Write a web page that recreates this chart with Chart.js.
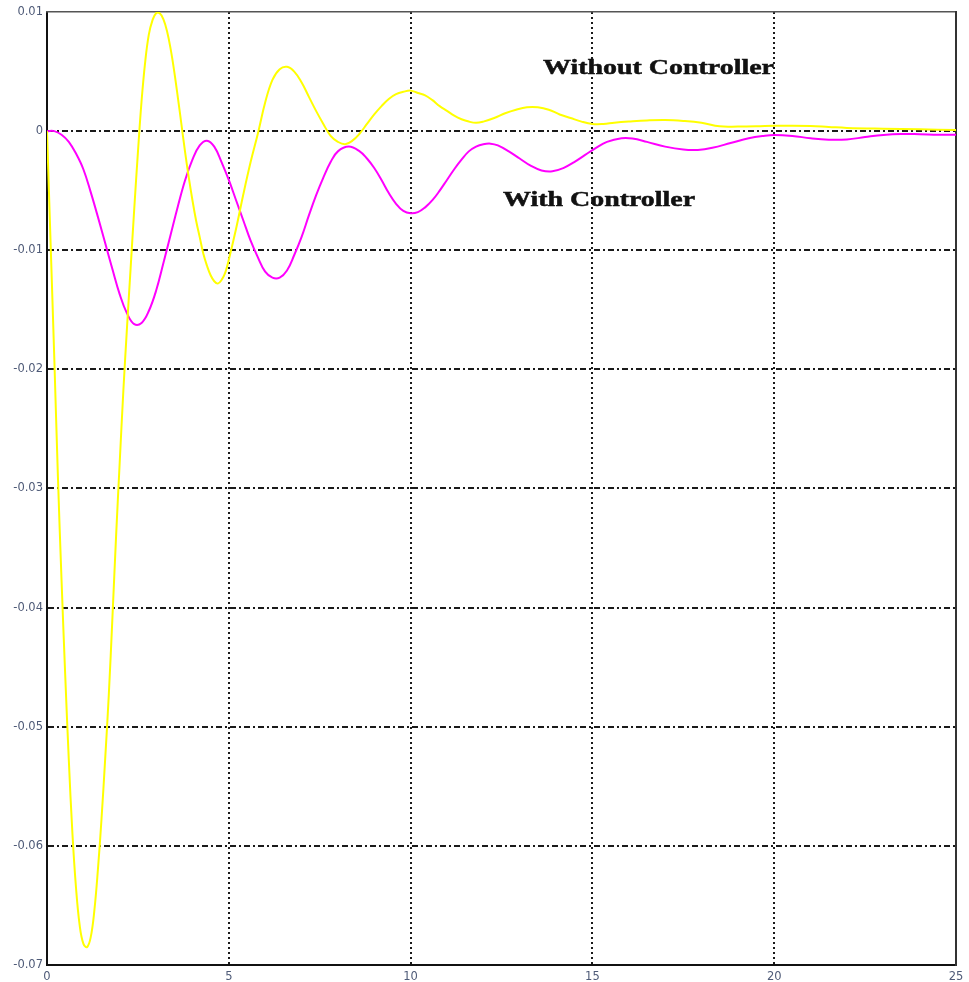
<!DOCTYPE html>
<html>
<head>
<meta charset="utf-8">
<script src="https://cdn.jsdelivr.net/npm/chart.js@4.4.1/dist/chart.umd.min.js"></script>
<style>
  html, body { margin: 0; padding: 0; background: #ffffff; }
  #wrap { width: 969px; height: 982px; }
</style>
</head>
<body>
<div id="wrap"><canvas id="c" width="969" height="982"></canvas></div>
<script>
// ---- data ----
const timeWithout = [0, 0.1, 0.2, 0.3, 0.4, 0.5, 0.6, 0.7, 0.8, 0.9, 1.0, 1.1, 1.2, 1.3, 1.4, 1.5, 1.6, 1.7, 1.8, 1.9, 2.0, 2.1, 2.2, 2.3, 2.4, 2.5, 2.6, 2.7, 2.8, 2.9, 3.0, 3.1, 3.2, 3.3, 3.4, 3.5, 3.6, 3.7, 3.8, 3.9, 4.0, 4.1, 4.2, 4.3, 4.4, 4.5, 4.6, 4.7, 4.8, 4.9, 5.0, 5.2, 5.4, 5.6, 5.8, 6.0, 6.2, 6.4, 6.6, 6.8, 7.0, 7.2, 7.4, 7.6, 7.8, 8.0, 8.2, 8.4, 8.6, 8.8, 9.0, 9.2, 9.4, 9.6, 9.8, 10.0, 10.2, 10.4, 10.6, 10.8, 11.0, 11.2, 11.4, 11.6, 11.8, 12.0, 12.3, 12.6, 12.9, 13.2, 13.5, 13.8, 14.1, 14.4, 14.7, 15.0, 15.3, 15.6, 16.0, 16.5, 17.0, 17.5, 18.0, 18.5, 19.0, 19.5, 20.0, 20.5, 21.0, 21.5, 22.0, 23.0, 24.0, 25.0];
const withoutController = [0, -0.0095, -0.019, -0.029, -0.0377, -0.0456, -0.0528, -0.059, -0.0636, -0.0667, -0.0682, -0.0685, -0.0677, -0.0655, -0.062, -0.0577, -0.0527, -0.0473, -0.0408, -0.034, -0.0278, -0.0218, -0.0165, -0.0115, -0.0065, -0.0018, 0.0025, 0.0058, 0.0081, 0.0093, 0.0099, 0.0099, 0.0094, 0.0084, 0.0069, 0.005, 0.0028, 0.0005, -0.0018, -0.0039, -0.0058, -0.0075, -0.0089, -0.0103, -0.0113, -0.0121, -0.0126, -0.0128, -0.0125, -0.0119, -0.0108, -0.0082, -0.0053, -0.0026, -0.0002, 0.0024, 0.0043, 0.0052, 0.0054, 0.005, 0.0041, 0.0029, 0.0017, 0.0006, -0.0004, -0.0009, -0.0011, -0.0008, -0.0002, 0.0006, 0.0014, 0.0021, 0.0027, 0.0031, 0.0033, 0.0034, 0.0032, 0.003, 0.0026, 0.0021, 0.0017, 0.0013, 0.001, 0.0008, 0.0007, 0.0008, 0.0011, 0.0015, 0.0018, 0.002, 0.002, 0.0018, 0.0014, 0.0011, 0.0008, 0.0006, 0.0006, 0.0007, 0.0008, 0.0009, 0.00094, 0.00086, 0.0007, 0.0004, 0.00038, 0.0004, 0.00045, 0.00046, 0.00043, 0.00035, 0.00027, 0.0002, 0.00015, 0.0001];

const timeWith = [0, 0.2, 0.4, 0.6, 0.8, 1.0, 1.2, 1.4, 1.6, 1.8, 2.0, 2.2, 2.4, 2.6, 2.8, 3.0, 3.2, 3.4, 3.6, 3.8, 4.0, 4.2, 4.4, 4.6, 4.8, 5.0, 5.2, 5.4, 5.6, 5.8, 6.0, 6.2, 6.4, 6.6, 6.8, 7.0, 7.2, 7.4, 7.6, 7.8, 8.0, 8.3, 8.6, 8.8, 9.0, 9.2, 9.4, 9.6, 9.8, 10.0, 10.2, 10.4, 10.6, 10.8, 11.0, 11.2, 11.4, 11.6, 11.8, 12.0, 12.2, 12.4, 12.7, 13.0, 13.3, 13.6, 13.9, 14.2, 14.5, 14.8, 15.1, 15.4, 15.8, 16.1, 16.5, 17.0, 17.5, 17.9, 18.3, 18.8, 19.3, 19.7, 20.0, 20.5, 21.0, 21.5, 22.0, 22.5, 23.0, 23.5, 24.0, 24.5, 25.0];
const withController = [0, 0, -0.0003, -0.0009, -0.0019, -0.0032, -0.0051, -0.0072, -0.0094, -0.0116, -0.0137, -0.0153, -0.0162, -0.0161, -0.0151, -0.0134, -0.0111, -0.0087, -0.0063, -0.0041, -0.0024, -0.0012, -0.0008, -0.0013, -0.0026, -0.0041, -0.0058, -0.0075, -0.0092, -0.0106, -0.0118, -0.0123, -0.0123, -0.0117, -0.0104, -0.0089, -0.0071, -0.0054, -0.0039, -0.0026, -0.0017, -0.0013, -0.0017, -0.0023, -0.0031, -0.0041, -0.0052, -0.0061, -0.0067, -0.0069, -0.0068, -0.0064, -0.0058, -0.005, -0.0041, -0.0032, -0.0024, -0.0017, -0.0013, -0.0011, -0.00105, -0.0012, -0.0017, -0.0023, -0.0029, -0.0033, -0.00337, -0.0031, -0.0026, -0.002, -0.0014, -0.0009, -0.0006, -0.00062, -0.0009, -0.0013, -0.00155, -0.00158, -0.0014, -0.001, -0.0006, -0.0004, -0.00032, -0.0004, -0.0006, -0.00072, -0.0007, -0.0005, -0.00032, -0.00024, -0.00026, -0.0003, -0.0003];

const xTicks = [0, 5, 10, 15, 20, 25];
const yTicks = [0.01, 0, -0.01, -0.02, -0.03, -0.04, -0.05, -0.06, -0.07];
const yTickLabels = ['0.01', '0', '-0.01', '-0.02', '-0.03', '-0.04', '-0.05', '-0.06', '-0.07'];

const annotations = [
  { text: 'Without Controller', t: 13.64, v: 0.0053 },
  { text: 'With Controller', t: 12.54, v: -0.0058 }
];

// ---- chart ----
const toPoints = (xs, ys) => xs.map((x, i) => ({ x: x, y: ys[i] }));
const tickColor = '#4f5b78';
const tickFont = { family: '"DejaVu Sans", sans-serif', size: 11.5 };

const textPlugin = {
  id: 'curveLabels',
  afterDatasetsDraw(chart) {
    const ctx = chart.ctx;
    const xs = chart.scales.x, ys = chart.scales.y;
    annotations.forEach(a => {
      ctx.save();
      ctx.font = 'bold 22px "Liberation Serif", "Times New Roman", serif';
      ctx.fillStyle = '#111111';
      ctx.strokeStyle = '#111111';
      ctx.lineWidth = 0.5;
      ctx.textAlign = 'left';
      ctx.textBaseline = 'middle';
      ctx.translate(xs.getPixelForValue(a.t), ys.getPixelForValue(a.v));
      ctx.scale(1.27, 1);
      ctx.fillText(a.text, 0, 0);
      ctx.strokeText(a.text, 0, 0);
      ctx.restore();
    });
  }
};

new Chart(document.getElementById('c'), {
  type: 'line',
  data: {
    datasets: [
      {
        label: 'Without Controller',
        data: toPoints(timeWithout, withoutController),
        borderColor: '#ffff00',
        borderWidth: 2,
        pointRadius: 0,
        tension: 0.4,
        fill: false,
        xAxisID: 'x', yAxisID: 'y'
      },
      {
        label: 'With Controller',
        data: toPoints(timeWith, withController),
        borderColor: '#ff00ff',
        borderWidth: 2,
        pointRadius: 0,
        tension: 0.4,
        fill: false,
        xAxisID: 'x', yAxisID: 'y'
      }
    ]
  },
  options: {
    responsive: false,
    animation: false,
    layout: { padding: { left: 0, right: 13, top: 12, bottom: 0 } },
    plugins: { legend: { display: false }, tooltip: { enabled: false } },
    scales: {
      x: {
        type: 'linear', position: 'bottom',
        min: 0, max: 25,
        afterBuildTicks: s => { s.ticks = xTicks.map(v => ({ value: v })); },
        afterFit: s => { s.height = 17; },
        ticks: { color: tickColor, font: tickFont, padding: 5, maxRotation: 0 },
        grid: {
          drawTicks: false,
          lineWidth: 2,
          color: ctx => (ctx.tick && (ctx.tick.value === 0 || ctx.tick.value === 25)) ? 'rgba(0,0,0,0)' : '#1a1a1a'
        },
        border: { display: true, color: '#111111', width: 2, dash: [2, 3] }
      },
      y: {
        type: 'linear', position: 'left',
        min: -0.07, max: 0.01,
        afterBuildTicks: s => { s.ticks = yTicks.map(v => ({ value: v })); },
        afterFit: s => { s.width = 47; },
        ticks: {
          color: tickColor, font: tickFont, padding: 4,
          callback: (v) => { const i = yTicks.findIndex(t => Math.abs(t - v) < 1e-9); return i >= 0 ? yTickLabels[i] : ''; }
        },
        grid: {
          drawTicks: false,
          lineWidth: 2,
          color: ctx => (ctx.tick && (Math.abs(ctx.tick.value - 0.01) < 1e-9 || Math.abs(ctx.tick.value + 0.07) < 1e-9)) ? 'rgba(0,0,0,0)' : '#1a1a1a'
        },
        border: { display: true, color: '#111111', width: 2, dash: [6, 3, 2, 3] }
      },
      xTop: {
        type: 'linear', position: 'top', min: 0, max: 25,
        afterFit: s => { s.height = 0; },
        ticks: { display: false },
        grid: { display: false, drawTicks: false },
        border: { display: true, color: '#555555', width: 1.5 }
      },
      yRight: {
        type: 'linear', position: 'right', min: -0.07, max: 0.01,
        afterFit: s => { s.width = 0; },
        ticks: { display: false },
        grid: { display: false, drawTicks: false },
        border: { display: true, color: '#333333', width: 2 }
      }
    }
  },
  plugins: [textPlugin]
});
</script>
</body>
</html>
